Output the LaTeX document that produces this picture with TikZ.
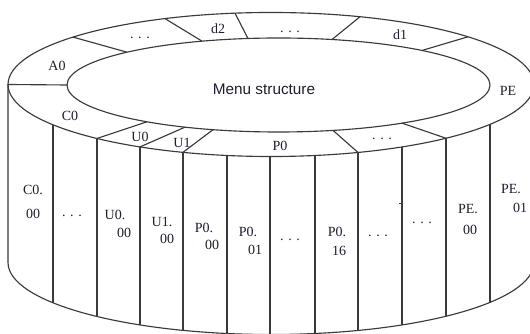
\documentclass[tikz,border=0pt]{standalone}
\usepackage{fontspec}
\setmainfont{Liberation Serif}
\newfontfamily\titlesans{Liberation Sans}
\definecolor{linec}{HTML}{3A3A3A}
\definecolor{txtc}{HTML}{1E1E30}
\newcommand\outerY[2]{249.5+(#2)*72*sqrt(1-(((#1)-271)/263)^2)}
\newcommand\innerY[2]{249+(#2)*47*sqrt(1-(((#1)-278.5)/211.5)^2)}
\newcommand\bottomY[2]{71.5+(#2)*72*sqrt(1-(((#1)-271)/263)^2)}
\begin{document}
\begin{tikzpicture}[x=0.75pt,y=0.75pt,
  edge/.style={draw=linec, line width=0.85pt},
  lbl/.style={font=\fontsize{10.5}{12}\selectfont, text=txtc, inner sep=0pt},
  title/.style={font=\titlesans\fontsize{11.5}{13}\selectfont, text=txtc, inner sep=0pt}]
\useasboundingbox (0,0) rectangle (530,334);
\fill[white] (0,0) rectangle (530,334);
\begin{scope}
\clip (0,0) rectangle (530,334);
% top outer and inner ellipses
\draw[edge] (271,249.5) ellipse [x radius=263, y radius=72];
\draw[edge] (278.5,249) ellipse [x radius=211.5, y radius=47];
% cylinder sides and bottom
\coordinate (sideL) at (8,249.5);
\coordinate (sideLb) at (8,71.5);
\draw[edge] (sideL) -- (sideLb) arc [start angle=180, end angle=360, x radius=263, y radius=72] -- (534,249.5);
% columns
\foreach \x [count=\i] in {53,97,140,183,227,270,315,358,402,446,490} {
  \coordinate (ct\i) at (\x,{\outerY{\x}{-1}});
  \coordinate (cb\i) at (\x,{\bottomY{\x}{-1}});
  \draw[edge] (ct\i) -- (cb\i);
}
% ring dividers
\coordinate (oL) at (8,249.5);
\coordinate (iL) at (67,249);
\draw[edge] (oL) -- (iL);
\foreach \ox/\os/\ix/\is [count=\k] in {73/1/127/1, 165/1/202/1, 235/1/248/1, 360/1/332/1, 468/1/422/1, 446/-1/402/-1, 358/-1/333/-1, 183/-1/213/-1, 140/-1/185/-1, 97/-1/147/-1} {
  \coordinate (do\k) at (\ox,{\outerY{\ox}{\os}});
  \coordinate (di\k) at (\ix,{\innerY{\ix}{\is}});
  \draw[edge] (do\k) -- (di\k);
}
% small tick
\coordinate (tickA) at (399,131);
\coordinate (tickB) at (402,131);
\draw[draw=linec, line width=0.6pt] (tickA) -- (tickB);
\end{scope}
% title
\node[title] (menu) at (264,245) {Menu structure};
% ring labels
\node[lbl] (rA0) at (57,268) {A0};
\node[lbl] (rd3) at (140,296) {. . .};
\node[lbl] (rd2) at (218,305) {d2};
\node[lbl] (rd4) at (290,302) {. . .};
\node[lbl] (rd1) at (400,299) {d1};
\node[lbl] (rPE) at (508,243) {PE};
\node[lbl] (rd5) at (382,195) {. . .};
\node[lbl] (rP0) at (280,188) {P0};
\node[lbl] (rU1) at (182,191) {U1};
\node[lbl] (rU0) at (140,197) {U0};
\node[lbl] (rC0) at (70,218) {C0};
% side labels
\node[lbl] (sC0a) at (33,144) {C0.};
\node[lbl] (sC0b) at (33,120) {00};
\node[lbl] (sd1) at (72,118) {. . .};
\node[lbl] (sU0a) at (115,119) {U0.};
\node[lbl] (sU0b) at (124,101) {00};
\node[lbl] (sU1a) at (162,112) {U1.};
\node[lbl] (sU1b) at (167,95) {00};
\node[lbl] (sP0a) at (204,106) {P0.};
\node[lbl] (sP0b) at (212,89) {00};
\node[lbl] (sP1a) at (248,102) {P0.};
\node[lbl] (sP1b) at (255,84) {01};
\node[lbl] (sd2) at (290,94) {. . .};
\node[lbl] (sP16a) at (337,102) {P0.};
\node[lbl] (sP16b) at (339,83) {16};
\node[lbl] (sd3) at (378,98) {. . .};
\node[lbl] (sd4) at (422,111) {. . .};
\node[lbl] (sPEa) at (468,125) {PE.};
\node[lbl] (sPEb) at (470,104) {00};
\node[lbl] (sPE1a) at (511,145) {PE.};
\node[lbl] (sPE1b) at (520,126) {01};
\end{tikzpicture}
\end{document}
